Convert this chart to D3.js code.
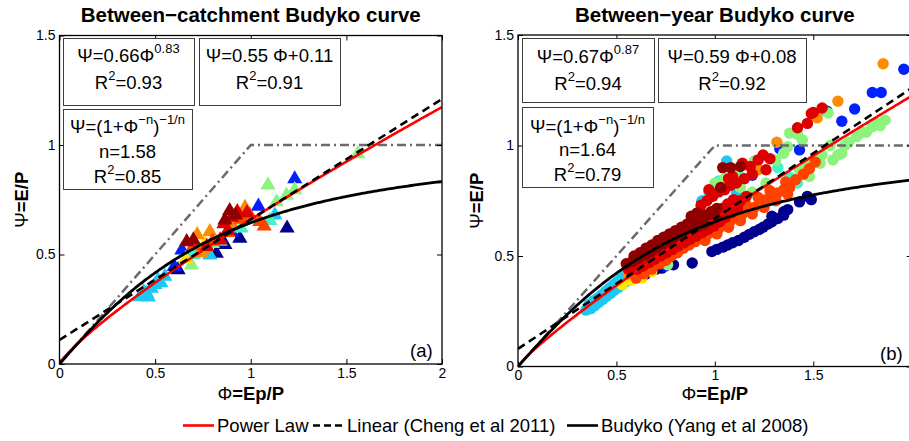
<!DOCTYPE html>
<meta charset="utf-8">
<style>
    body {
        margin: 0;
        padding: 0;
        background: #fff;
    }

    svg {
        display: block;
        font-family: "Liberation Sans", Arial, sans-serif;
    }
</style>
<svg width="909" height="441"></svg>
<script src="https://cdn.jsdelivr.net/npm/d3@7"></script>
<script>
    // ---- data ----
    var xTicks = [0, 0.5, 1, 1.5, 2];
    var yTicks = [0, 0.5, 1, 1.5];

    // jet-like colours, one per group of catchments
    var jetColors = ["#00008f", "#0020ff", "#1ec8f5", "#45f3c8", "#8cf47c",
        "#ffe600", "#ff8c00", "#ff4200", "#dc0000", "#900000"];

    // fitted parameters (a)=between-catchment, (b)=between-year
    var powerA = [0.66, 0.67];
    var powerB = [0.83, 0.87];
    var linSlope = [0.55, 0.59];
    var linInt = [0.11, 0.08];
    var budykoN = [1.58, 1.64];
    var r2Power = [0.93, 0.94];
    var r2Lin = [0.91, 0.92];
    var r2Budyko = [0.85, 0.79];

    // between-catchment points [Phi, Psi], by colour
    var catchNavy = [[1.19, 0.62], [0.943, 0.574], [0.82, 0.505], [0.62, 0.43], [0.865, 0.545]];
    var catchBlue = [[1.23, 0.845], [1.04, 0.72], [0.64, 0.52], [0.60, 0.445], [0.90, 0.60]];
    var catchCyan = [[0.42, 0.307], [0.456, 0.323], [0.499, 0.363], [0.551, 0.40], [0.515, 0.383],
        [0.44, 0.33], [0.48, 0.345], [0.465, 0.305], [0.786, 0.497], [1.126, 0.68], [0.53, 0.37]];
    var catchTurq = [[0.70, 0.50], [0.95, 0.62], [1.10, 0.655], [0.84, 0.56]];
    var catchGreen = [[1.09, 0.817], [1.23, 0.795], [1.187, 0.77], [1.135, 0.74], [1.56, 0.96],
        [0.69, 0.452], [0.80, 0.55], [1.0, 0.67]];
    var catchYellow = [[0.66, 0.48], [0.76, 0.55]];
    var catchOrange = [[0.97, 0.714], [0.786, 0.604], [0.75, 0.52], [0.735, 0.506], [0.72, 0.59], [0.90, 0.64]];
    var catchRedOrange = [[0.995, 0.68], [1.047, 0.65], [1.07, 0.63], [0.88, 0.60], [0.80, 0.56], [0.70, 0.54], [0.95, 0.66]];
    var catchRed = [[0.93, 0.695], [0.88, 0.61], [0.84, 0.566], [0.77, 0.536], [0.90, 0.67], [0.98, 0.69], [0.86, 0.64]];
    var catchDarkRed = [[0.70, 0.566], [0.665, 0.558], [0.865, 0.657], [0.92, 0.68], [0.89, 0.70]];

    // between-year points [Phi, Psi], by colour
    var yearNavy = [[0.645, 0.415], [0.70, 0.44], [0.73, 0.445], [0.76, 0.465], [0.79, 0.46], [0.885, 0.468],
        [0.985, 0.52], [1.01, 0.53], [1.04, 0.54], [1.065, 0.55], [1.09, 0.56], [1.12, 0.57], [1.15, 0.585],
        [1.175, 0.598], [1.20, 0.61], [1.225, 0.62], [1.245, 0.63], [1.27, 0.645], [1.29, 0.655], [1.32, 0.67],
        [1.35, 0.685], [1.37, 0.71], [1.43, 0.745], [1.47, 0.77], [1.49, 0.755], [1.29, 0.68], [1.35, 0.70]];
    var yearBlue = [[1.96, 1.345], [1.80, 1.24], [1.845, 1.24], [1.71, 1.165], [1.645, 1.11], [1.57, 1.155],
        [1.43, 0.98], [1.33, 0.985], [1.19, 0.865], [0.935, 0.745], [0.99, 0.80], [0.75, 0.455]];
    var yearCyan = [[0.345, 0.255], [0.37, 0.262], [0.36, 0.282], [0.39, 0.275], [0.385, 0.298], [0.41, 0.29],
        [0.405, 0.31], [0.43, 0.303], [0.425, 0.325], [0.45, 0.318], [0.445, 0.34], [0.47, 0.33], [0.465, 0.355],
        [0.49, 0.345], [0.485, 0.37], [0.51, 0.358], [0.505, 0.385], [0.53, 0.37], [0.525, 0.40], [0.55, 0.385],
        [0.545, 0.415], [0.57, 0.395], [0.59, 0.405], [0.61, 0.41], [0.935, 0.75], [1.06, 0.93], [1.11, 0.785],
        [0.97, 0.79]];
    var yearTurq = [[1.42, 0.83], [1.38, 0.857], [1.32, 0.90], [1.13, 0.857], [1.21, 0.92], [1.80, 1.09],
        [1.02, 0.84], [0.60, 0.43]];
    var yearGreen = [[1.865, 1.115], [1.84, 1.09], [1.80, 1.085], [1.825, 1.10], [1.77, 1.06], [1.75, 1.06],
        [1.72, 1.04], [1.68, 1.015], [1.66, 1.0], [1.645, 0.965], [1.625, 0.957], [1.60, 0.935], [1.585, 1.0],
        [1.545, 0.957], [1.535, 0.92], [1.50, 0.935], [1.47, 0.905], [1.575, 1.147], [1.445, 1.025], [1.42, 1.05],
        [1.41, 1.06], [1.38, 1.056], [1.37, 0.995], [1.35, 0.965], [1.31, 0.935], [1.43, 0.89], [1.48, 0.86],
        [1.26, 0.83], [1.19, 0.79], [1.13, 0.81], [1.20, 0.93], [1.05, 0.85], [1.0, 0.83], [1.10, 0.88], [0.76, 0.46]];
    var yearYellow = [[0.53, 0.37], [0.575, 0.39], [0.63, 0.40], [0.60, 0.415], [0.68, 0.43]];
    var yearOrange = [[1.855, 1.37], [1.625, 1.20], [1.52, 1.125], [1.315, 1.015], [1.22, 0.89], [1.10, 0.84],
        [0.56, 0.42], [0.62, 0.45], [0.67, 0.47], [0.71, 0.49], [0.76, 0.52], [0.82, 0.55], [0.89, 0.59], [0.97, 0.64]];
    var yearRedOrange = [[0.60, 0.40], [0.64, 0.42], [0.68, 0.44], [0.72, 0.465], [0.70, 0.48], [0.75, 0.48],
        [0.78, 0.50], [0.76, 0.51], [0.81, 0.515], [0.84, 0.535], [0.82, 0.545], [0.87, 0.55], [0.86, 0.57],
        [0.90, 0.565], [0.93, 0.58], [0.92, 0.60], [0.96, 0.595], [0.99, 0.61], [0.98, 0.63], [1.02, 0.625],
        [1.05, 0.64], [1.04, 0.665], [1.08, 0.66], [1.11, 0.675], [1.10, 0.70], [1.14, 0.69], [1.17, 0.705],
        [1.16, 0.73], [1.20, 0.72], [1.23, 0.74], [1.22, 0.765], [1.26, 0.755], [1.29, 0.77], [1.28, 0.795],
        [1.32, 0.785], [1.35, 0.80], [1.38, 0.81], [1.36, 0.835], [1.41, 0.845], [1.45, 0.87], [1.48, 0.895],
        [1.51, 0.925], [1.19, 0.69], [1.25, 0.72], [1.31, 0.75], [1.37, 0.78], [1.13, 0.66], [1.07, 0.63],
        [1.01, 0.60], [0.95, 0.57]];
    var yearRed = [[0.56, 0.44], [0.59, 0.455], [0.62, 0.47], [0.65, 0.485], [0.68, 0.50], [0.71, 0.515],
        [0.74, 0.53], [0.77, 0.545], [0.80, 0.56], [0.83, 0.575], [0.86, 0.59], [0.89, 0.605], [0.92, 0.62],
        [0.95, 0.635], [0.98, 0.65], [1.01, 0.67], [1.04, 0.69], [1.07, 0.71], [1.10, 0.73], [1.13, 0.75],
        [1.16, 0.77], [0.93, 0.73], [0.96, 0.75], [0.99, 0.77], [1.02, 0.79], [0.97, 0.80], [1.05, 0.80],
        [1.08, 0.82], [1.11, 0.83], [1.07, 0.85], [1.15, 0.85], [1.09, 0.86], [1.14, 0.92], [1.18, 0.905],
        [1.22, 0.935], [1.245, 0.957], [1.28, 0.94], [1.26, 0.89], [1.19, 0.87], [1.42, 1.08], [1.47, 1.10],
        [1.49, 1.145], [1.545, 1.17], [1.50, 1.15],
        [0.605, 0.44], [0.635, 0.455], [0.665, 0.47], [0.695, 0.485], [0.725, 0.50], [0.755, 0.515],
        [0.785, 0.53], [0.815, 0.545], [0.845, 0.56], [0.875, 0.575], [0.905, 0.59], [0.935, 0.605],
        [0.965, 0.62], [0.995, 0.635], [1.025, 0.655], [1.055, 0.675], [1.085, 0.695], [1.115, 0.715],
        [0.615, 0.485], [0.645, 0.50], [0.675, 0.515], [0.705, 0.53], [0.735, 0.545], [0.765, 0.56],
        [0.795, 0.575], [0.825, 0.59], [0.855, 0.605], [0.885, 0.635], [0.915, 0.65], [0.945, 0.665],
        [0.975, 0.68], [1.005, 0.695], [1.035, 0.715], [1.065, 0.735], [1.095, 0.755]];
    var yearDarkRed = [[0.55, 0.465], [0.58, 0.475], [0.59, 0.50], [0.61, 0.49], [0.62, 0.515], [0.645, 0.505],
        [0.65, 0.535], [0.675, 0.52], [0.68, 0.55], [0.705, 0.54], [0.71, 0.57], [0.735, 0.555], [0.74, 0.585],
        [0.765, 0.57], [0.77, 0.60], [0.795, 0.585], [0.80, 0.615], [0.825, 0.595], [0.83, 0.63], [0.855, 0.61],
        [0.86, 0.645], [0.885, 0.62], [0.89, 0.66], [0.88, 0.68], [0.915, 0.635], [0.92, 0.67], [0.91, 0.695],
        [0.945, 0.645], [0.95, 0.685], [0.975, 0.66], [0.98, 0.70], [1.005, 0.675], [1.01, 0.715], [1.03, 0.81],
        [1.04, 0.90], [1.08, 0.90], [1.13, 0.905]];

    var catchGroups = [catchNavy, catchBlue, catchCyan, catchTurq, catchGreen, catchYellow,
        catchOrange, catchRedOrange, catchRed, catchDarkRed];
    var yearGroups = [yearNavy, yearBlue, yearCyan, yearTurq, yearGreen, yearYellow,
        yearOrange, yearRedOrange, yearRed, yearDarkRed];

    var svg = d3.select("svg");
    var textSize = 18.5;

    // text with superscripts: plain strings and [sup] arrays
    function richText(sel, x, yb, segs, size, anchor) {
        var t = sel.append("text")
            .attr("x", x).attr("y", yb)
            .attr("text-anchor", anchor || "middle")
            .attr("font-size", size)
            .attr("fill", "#000");
        var shift = 0;
        segs.forEach(function(s) {
            var sup = Array.isArray(s);
            var target = sup ? -9 : 0;
            t.append("tspan")
                .attr("dy", target - shift)
                .attr("font-size", sup ? 13 : size)
                .text(sup ? s[0] : s);
            shift = target;
        });
        return t;
    }

    function drawPanel(i, cfg) {
        var x = d3.scaleLinear().domain([0, 2]).range([cfg.x0, cfg.x1]);
        var y = d3.scaleLinear().domain([0, 1.5]).range([cfg.y0, cfg.y1]);
        var g = svg.append("g");

        g.append("clipPath").attr("id", "clip" + i)
            .append("rect")
            .attr("x", cfg.x0).attr("y", cfg.y1)
            .attr("width", cfg.x1 - cfg.x0).attr("height", cfg.y0 - cfg.y1);

        var plot = g.append("g").attr("clip-path", "url(#clip" + i + ")");

        // scatter
        cfg.groups.forEach(function(pts, k) {
            var sg = plot.append("g").attr("fill", jetColors[k]);
            if (cfg.marker == "triangle") {
                sg.selectAll("path").data(pts).enter().append("path")
                    .attr("d", d3.symbol().type(d3.symbolTriangle).size(100))
                    .attr("transform", function(d) {
                        return "translate(" + x(d[0]) + "," + y(d[1]) + ")";
                    });
            } else {
                sg.selectAll("circle").data(pts).enter().append("circle")
                    .attr("cx", function(d) { return x(d[0]); })
                    .attr("cy", function(d) { return y(d[1]); })
                    .attr("r", 5.7);
            }
        });

        var line = d3.line()
            .x(function(d) { return x(d[0]); })
            .y(function(d) { return y(d[1]); });
        var phi = d3.range(0.001, 2.01, 0.01);

        // energy / water limits
        plot.append("path")
            .datum([[0, 0], [1, 1], [2, 1]])
            .attr("d", line)
            .attr("fill", "none").attr("stroke", "#6a6a6a")
            .attr("stroke-width", 2.5).attr("stroke-dasharray", "9,4,2,4");

        plot.append("path")
            .datum(phi.map(function(p) { return [p, powerA[i] * Math.pow(p, powerB[i])]; }))
            .attr("d", line)
            .attr("fill", "none").attr("stroke", "#ff0000").attr("stroke-width", 2.6);

        plot.append("path")
            .datum([[0, linInt[i]], [2, linInt[i] + 2 * linSlope[i]]])
            .attr("d", line)
            .attr("fill", "none").attr("stroke", "#000").attr("stroke-width", 2.6)
            .attr("stroke-dasharray", "8,5");

        plot.append("path")
            .datum(phi.map(function(p) {
                return [p, Math.pow(1 + Math.pow(p, -budykoN[i]), -1 / budykoN[i])];
            }))
            .attr("d", line)
            .attr("fill", "none").attr("stroke", "#000").attr("stroke-width", 2.8);

        // axes, ticks pointing inwards
        var fmt = function(d) { return x(d) > 900 ? "" : String(d); };
        var ax = [
            [d3.axisBottom(x).tickValues(xTicks).tickFormat(fmt), 0, cfg.y0],
            [d3.axisTop(x).tickValues(xTicks).tickFormat(""), 0, cfg.y1],
            [d3.axisLeft(y).tickValues(yTicks).tickFormat(String), cfg.x0, 0],
            [d3.axisRight(y).tickValues(yTicks).tickFormat(""), cfg.x1, 0]
        ];
        ax.forEach(function(a) {
            var ag = g.append("g")
                .attr("transform", "translate(" + a[1] + "," + a[2] + ")")
                .call(a[0].tickSizeInner(-5).tickSizeOuter(0).tickPadding(4));
            ag.select(".domain").remove();
            ag.selectAll("line").attr("stroke", "#000");
            ag.selectAll("text")
                .attr("font-size", 14)
                .attr("font-family", "Liberation Sans, Arial, sans-serif")
                .attr("fill", "#000");
        });

        g.append("rect")
            .attr("x", cfg.x0).attr("y", cfg.y1)
            .attr("width", cfg.x1 - cfg.x0).attr("height", cfg.y0 - cfg.y1)
            .attr("fill", "none").attr("stroke", "#000").attr("stroke-width", 1.3);

        // fit annotation boxes
        var boxes = [
            { b: cfg.box1, lines: [["Ψ=" + powerA[i].toFixed(2) + "Φ", [powerB[i].toFixed(2)]],
                ["R", ["2"], "=" + r2Power[i].toFixed(2)]] },
            { b: cfg.box2, lines: [["Ψ=" + linSlope[i].toFixed(2) + " Φ+" + linInt[i].toFixed(2)],
                ["R", ["2"], "=" + r2Lin[i].toFixed(2)]] },
            { b: cfg.box3, lines: [["Ψ=(1+Φ", ["−n"], ")", ["−1/n"]],
                ["n=" + budykoN[i].toFixed(2)],
                ["R", ["2"], "=" + r2Budyko[i].toFixed(2)]] }
        ];
        boxes.forEach(function(bx) {
            var b = bx.b;
            g.append("rect")
                .attr("x", b[0] + 0.5).attr("y", b[1] + 0.5)
                .attr("width", b[2] - b[0]).attr("height", b[3] - b[1])
                .attr("fill", "#fff").attr("stroke", "#3c3c3c").attr("stroke-width", 1);
            bx.lines.forEach(function(l, j) {
                richText(g, (b[0] + b[2]) / 2, b[4][j], l, textSize);
            });
        });

        // titles and labels
        var cx = (cfg.x0 + cfg.x1) / 2;
        g.append("text")
            .attr("x", cx).attr("y", 22)
            .attr("text-anchor", "middle")
            .attr("font-size", 20.5).attr("font-weight", "bold")
            .text(cfg.title);

        var xl = g.append("text")
            .attr("x", cx).attr("y", 400)
            .attr("text-anchor", "middle")
            .attr("font-size", textSize).attr("font-weight", "bold");
        xl.append("tspan").attr("font-weight", "normal").text("Φ");
        xl.append("tspan").text("=Ep/P");

        var yl = g.append("text")
            .attr("transform", "translate(" + cfg.ylx + "," + ((cfg.y0 + cfg.y1) / 2) + ") rotate(-90)")
            .attr("text-anchor", "middle")
            .attr("font-size", textSize).attr("font-weight", "bold");
        yl.append("tspan").attr("font-weight", "normal").text("Ψ");
        yl.append("tspan").text("=E/P");

        g.append("text")
            .attr("x", cfg.tagX).attr("y", cfg.y0 - 7)
            .attr("font-size", textSize)
            .text(cfg.tag);
    }

    drawPanel(0, {
        x0: 59.5, x1: 442, y0: 364, y1: 35.5,
        title: "Between−catchment Budyko curve", tag: "(a)", tagX: 410, ylx: 28,
        marker: "triangle", groups: catchGroups,
        box1: [63, 38, 194, 105, [62, 89]],
        box2: [199, 38, 340, 105, [62, 89]],
        box3: [63, 109, 192, 189, [133, 158, 183]]
    });

    drawPanel(1, {
        x0: 518, x1: 911.7, y0: 366.5, y1: 35,
        title: "Between−year Budyko curve", tag: "(b)", tagX: 880, ylx: 483,
        marker: "circle", groups: yearGroups,
        box1: [522, 38, 654, 102, [63, 90]],
        box2: [658, 38, 806, 102, [63, 90]],
        box3: [522, 107, 653, 187, [133, 156, 181]]
    });

    // legend
    var legendItems = [
        { label: "Power Law", color: "#ff0000", dash: null, x: 183 },
        { label: "Linear (Cheng et al 2011)", color: "#000", dash: "7,4", x: 313 },
        { label: "Budyko (Yang et al 2008)", color: "#000", dash: null, x: 567 }
    ];
    var lg = svg.append("g");
    legendItems.forEach(function(it) {
        lg.append("line")
            .attr("x1", it.x).attr("x2", it.x + 31)
            .attr("y1", 425.5).attr("y2", 425.5)
            .attr("stroke", it.color).attr("stroke-width", 2.6)
            .attr("stroke-dasharray", it.dash);
        lg.append("text")
            .attr("x", it.x + 34).attr("y", 432)
            .attr("font-size", textSize)
            .text(it.label);
    });
</script>
